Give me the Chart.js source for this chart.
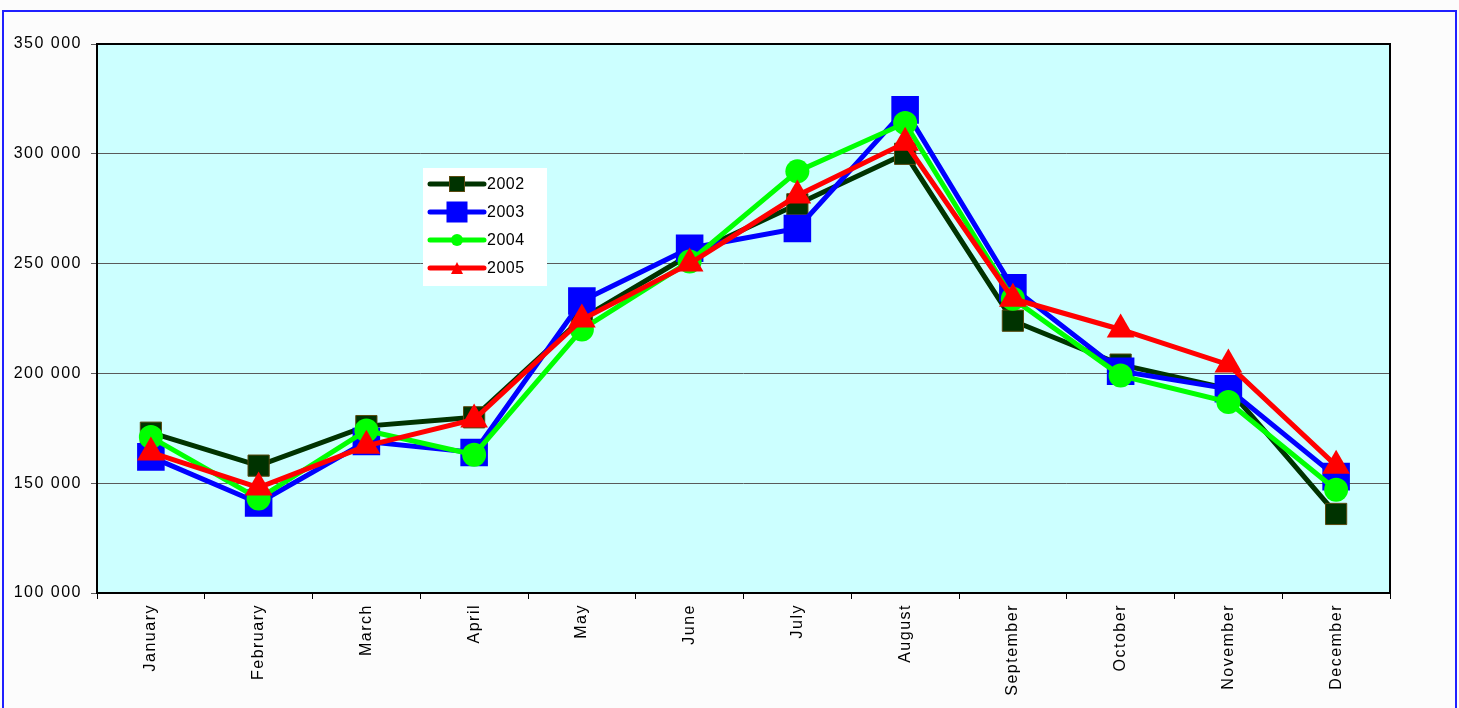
<!DOCTYPE html>
<html>
<head>
<meta charset="utf-8">
<script src="https://cdn.jsdelivr.net/npm/chart.js@4/dist/chart.umd.min.js"></script>
<style>
  html, body { margin: 0; padding: 0; background: #fcfcfc; overflow: hidden; }
  #frame { position: absolute; left: 2px; top: 10px; width: 1451px; height: 720px; border: 2px solid #2020ff; }
  #wrap { position: absolute; left: 0; top: 0; width: 1459px; height: 708px; }
</style>
</head>
<body>
<div id="frame"></div>
<div id="wrap"><canvas id="myChart" width="1459" height="708"></canvas></div>
<script>
const months = ['January', 'February', 'March', 'April', 'May', 'June', 'July',
    'August', 'September', 'October', 'November', 'December'];

const values2002 = [173000, 158000, 176000, 180000, 225000, 254000, 277000, 300000, 224000, 204000, 193000, 136000];
const values2003 = [162000, 141000, 169000, 164000, 233000, 257000, 266000, 320000, 239000, 201000, 193000, 153000];
const values2004 = [171000, 143000, 174000, 163000, 220000, 251000, 292000, 314000, 234000, 199000, 187000, 147000];
const values2005 = [164000, 148000, 167000, 179000, 224500, 250000, 281000, 305000, 234000, 220000, 204000, 158000];

const yTicks = [100000, 150000, 200000, 250000, 300000, 350000];

// the old spreadsheet text is spaced out wider than plain Arial
const wideText = {
    id: 'wideText',
    beforeDraw(chart) { chart.ctx.letterSpacing = '1.5px'; },
    afterDraw(chart) { chart.ctx.letterSpacing = '0px'; }
};

// plot background + frame around the plot
const plotFrame = {
    id: 'plotFrame',
    beforeDraw(chart) {
        const a = chart.chartArea;
        const ctx = chart.ctx;
        ctx.save();
        ctx.fillStyle = '#ccffff';
        ctx.fillRect(a.left, a.top, a.right - a.left, a.bottom - a.top);
        ctx.restore();
    },
    afterDraw(chart) {
        const a = chart.chartArea;
        const ctx = chart.ctx;
        ctx.save();
        ctx.strokeStyle = '#000';
        ctx.lineWidth = 2;
        ctx.strokeRect(a.left, a.top, a.right - a.left, a.bottom - a.top);
        ctx.restore();
    }
};

// legend box sitting inside the plot
const boxLegend = {
    id: 'boxLegend',
    afterDraw(chart) {
        const ctx = chart.ctx;
        ctx.save();
        ctx.letterSpacing = '0.5px';
        ctx.fillStyle = '#ffffff';
        ctx.fillRect(423, 168, 124, 118);
        chart.data.datasets.forEach(function (ds, i) {
            let y = 184 + i * 28;
            ctx.strokeStyle = ds.borderColor;
            ctx.lineWidth = 5;
            ctx.lineCap = 'round';
            ctx.beginPath();
            ctx.moveTo(430, y);
            ctx.lineTo(484, y);
            ctx.stroke();
            ctx.lineCap = 'butt';
            ctx.fillStyle = ds.pointBackgroundColor;
            ctx.strokeStyle = ds.pointBorderColor;
            ctx.lineWidth = 1;
            let s = ds.legendSize;
            if (ds.pointStyle === 'rect') {
                ctx.fillRect(457 - s / 2, y - s / 2, s, s);
                ctx.strokeRect(457 - s / 2, y - s / 2, s, s);
            } else if (ds.pointStyle === 'circle') {
                ctx.beginPath();
                ctx.arc(457, y, s / 2, 0, Math.PI * 2);
                ctx.fill();
            } else {
                ctx.beginPath();
                ctx.moveTo(457, y - s / 2);
                ctx.lineTo(457 + s / 2, y + s / 2);
                ctx.lineTo(457 - s / 2, y + s / 2);
                ctx.closePath();
                ctx.fill();
            }
            ctx.fillStyle = '#000';
            ctx.font = '16px "Liberation Sans", Arial, sans-serif';
            ctx.textBaseline = 'middle';
            ctx.textAlign = 'left';
            ctx.fillText(ds.label, 487, y + 1);
        });
        ctx.restore();
    }
};

const ctx = document.getElementById('myChart').getContext('2d');
new Chart(ctx, {
    type: 'line',
    data: {
        labels: months,
        datasets: [
            {
                label: '2002',
                data: values2002,
                borderColor: '#003300',
                borderWidth: 5,
                pointStyle: 'rect',
                pointRadius: 15,
                pointBackgroundColor: '#003300',
                pointBorderColor: '#5a4a10',
                pointBorderWidth: 1,
                legendSize: 15,
                order: 4
            },
            {
                label: '2003',
                data: values2003,
                borderColor: '#0000ff',
                borderWidth: 5,
                pointStyle: 'rect',
                pointRadius: 19.5,
                pointBackgroundColor: '#0000ff',
                pointBorderColor: '#0000ff',
                pointBorderWidth: 0,
                legendSize: 20,
                order: 3
            },
            {
                label: '2004',
                data: values2004,
                borderColor: '#00ff00',
                borderWidth: 5,
                pointStyle: 'circle',
                pointRadius: 12,
                pointBackgroundColor: '#00ff00',
                pointBorderColor: '#00ff00',
                pointBorderWidth: 0,
                legendSize: 12,
                order: 2
            },
            {
                label: '2005',
                data: values2005,
                borderColor: '#ff0000',
                borderWidth: 5,
                pointStyle: 'triangle',
                pointRadius: 16,
                pointBackgroundColor: '#ff0000',
                pointBorderColor: '#ff0000',
                pointBorderWidth: 0,
                legendSize: 12,
                order: 1
            }
        ]
    },
    options: {
        responsive: false,
        animation: false,
        devicePixelRatio: 1,
        layout: { padding: { top: 44, right: 69, left: 0, bottom: 0 } },
        plugins: {
            legend: { display: false },
            tooltip: { enabled: false }
        },
        elements: { line: { tension: 0 } },
        scales: {
            y: {
                min: 100000,
                max: 350000,
                afterFit: function (scale) { scale.width = 97; },
                afterBuildTicks: function (scale) {
                    scale.ticks = yTicks.map(v => ({ value: v }));
                },
                grid: { color: '#5a5a5a', lineWidth: 1, tickLength: 6 },
                border: { display: false },
                ticks: {
                    color: '#000',
                    padding: 9,
                    font: { family: '"Liberation Sans", Arial, sans-serif', size: 16 },
                    callback: function (v) {
                        return String(v).replace(/\B(?=(\d{3})+(?!\d))/g, ' ');
                    }
                }
            },
            x: {
                offset: true,
                afterFit: function (scale) { scale.height = 115; },
                grid: {
                    offset: true,
                    drawOnChartArea: false,
                    color: '#000',
                    tickLength: 6
                },
                border: { display: false },
                ticks: {
                    color: '#000',
                    padding: 5,
                    minRotation: 90,
                    maxRotation: 90,
                    autoSkip: false,
                    font: { family: '"Liberation Sans", Arial, sans-serif', size: 16 }
                }
            }
        }
    },
    plugins: [wideText, plotFrame, boxLegend]
});
</script>
</body>
</html>
